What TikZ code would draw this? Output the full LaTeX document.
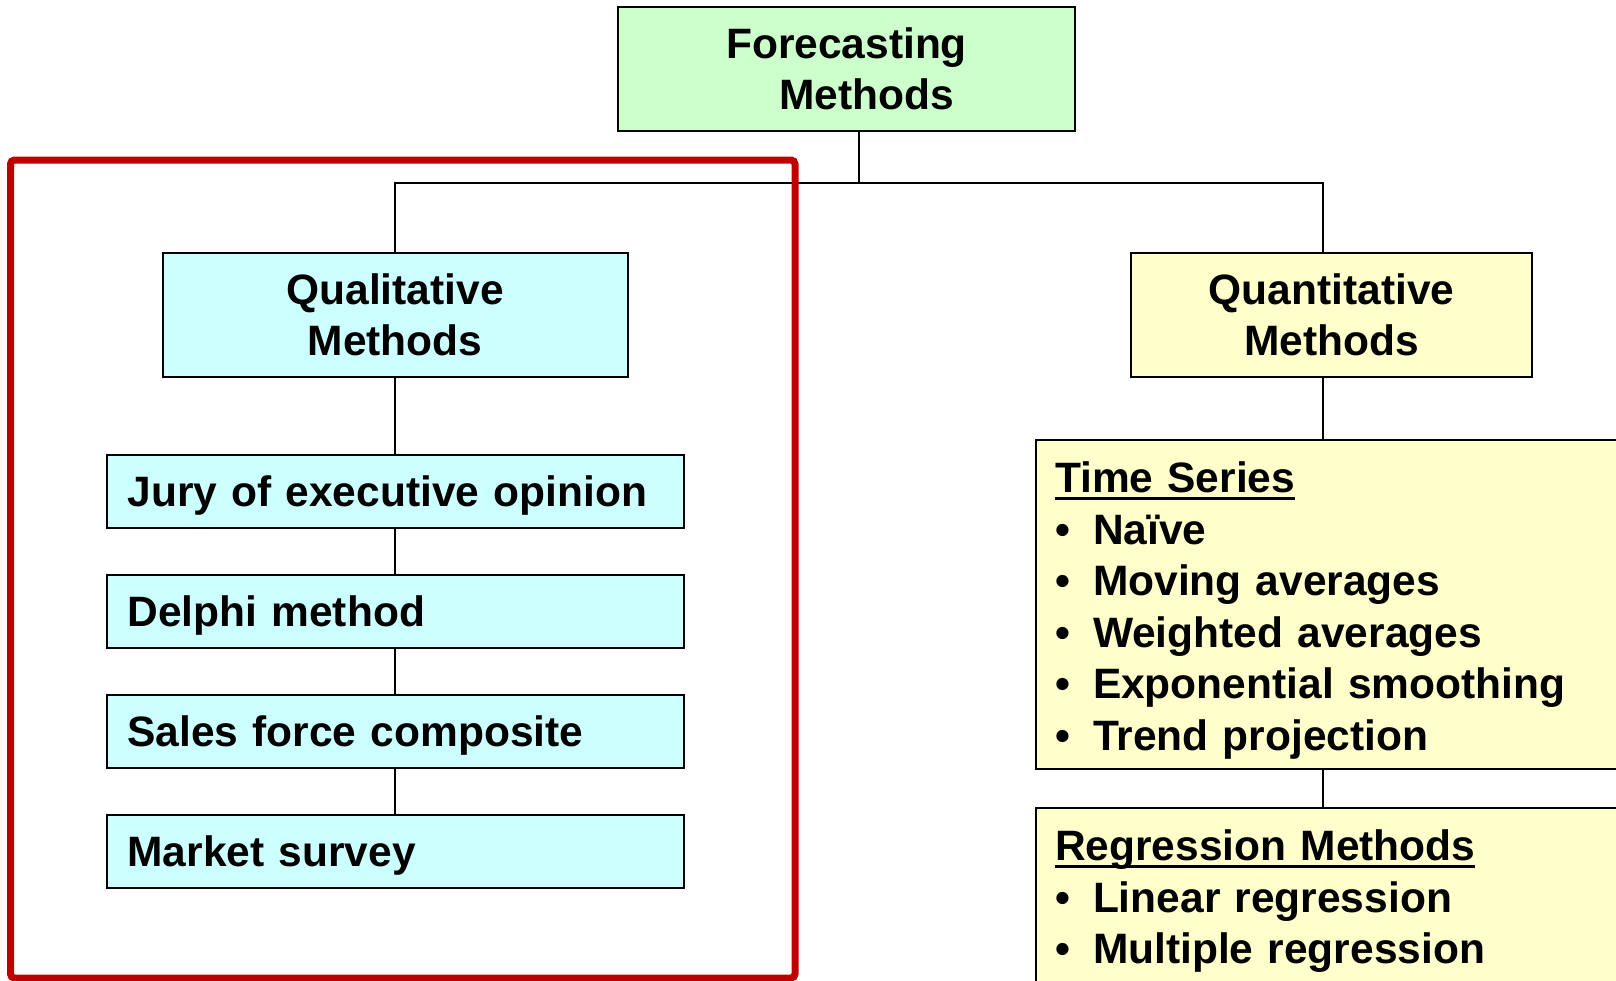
\documentclass[tikz,border=0pt]{standalone}
\usepackage{fontspec}
\setmainfont{Liberation Sans}
\usetikzlibrary{positioning}

\definecolor{fcgreen}{HTML}{CCFFCC}
\definecolor{qlcyan}{HTML}{CCFFFF}
\definecolor{qnyellow}{HTML}{FFFFCC}
\definecolor{framered}{HTML}{C00000}

\tikzstyle{headbox} = [
    rectangle,
    draw=black,
    line width=1pt,
    font=\fontsize{21.25pt}{25.75pt}\selectfont\bfseries,
    align=center,
    minimum height=62pt
]
\tikzstyle{methodbox} = [
    rectangle,
    draw=black,
    fill=qlcyan,
    line width=1pt,
    font=\fontsize{21.25pt}{25.75pt}\selectfont\bfseries,
    text width=267.5pt,
    text depth=0pt,
    align=left,
    inner xsep=10.5pt,
    minimum height=36.5pt
]
\tikzstyle{listbox} = [
    rectangle,
    draw=black,
    fill=qnyellow,
    line width=1pt,
    font=\fontsize{21.25pt}{25.75pt}\selectfont\bfseries,
    text width=291pt,
    align=left,
    inner xsep=9.5pt,
    inner ysep=11pt,
    anchor=north west
]
\tikzstyle{link} = [line width=1pt]
\tikzstyle{frame} = [draw=framered, line width=3.5pt, rounded corners=2pt]

\newcommand{\li}{\makebox[19pt][l]{\textbullet}}
\newcommand{\ulhead}[1]{\setbox0\hbox{#1}\rlap{\rule[-3.6pt]{\wd0}{1.4pt}}\box0}

\begin{document}
\begin{tikzpicture}[x=0.5pt, y=-0.5pt, node distance=22.5pt]
\useasboundingbox (0,0) rectangle (1616,980);
\clip (0,0) rectangle (1616,980);

\node (fm) [headbox, fill=fcgreen, minimum width=228.5pt] at (846.5,69)
{Forecasting\\\hspace*{20pt}Methods};

\node (qual) [headbox, fill=qlcyan, minimum width=232.5pt] at (395,315)
{Qualitative\\Methods};

\node (quan) [headbox, fill=qnyellow, minimum width=200.5pt] at (1331.5,315)
{Quantitative\\Methods};

\node (jury) [methodbox] at (395,491) {Jury of executive opinion};
\node (delphi) [methodbox, below=of jury] {Delphi method};
\node (sales) [methodbox, below=of delphi] {Sales force composite};
\node (survey) [methodbox, below=of sales] {Market survey};

\node (ts) [listbox, text depth=127pt] at (1035,439)
{\ulhead{Time Series}\\
\li Naïve\\
\li Moving averages\\
\li Weighted averages\\
\li Exponential smoothing\\
\li Trend projection};

\node (reg) [listbox, text depth=120pt] at (1035,807)
{\ulhead{Regression Methods}\\
\li Linear regression\\
\li Multiple regression};

\coordinate (split) at (859,183);
\coordinate (qtrunk) at (1323,183);

\draw [link] (split |- fm.south) -- (split);
\draw [link] (qual.north) |- (qtrunk) -- (qtrunk |- quan.north);
\draw [link] (qual) -- (jury);
\draw [link] (jury) -- (delphi);
\draw [link] (delphi) -- (sales);
\draw [link] (sales) -- (survey);
\draw [link] (qtrunk |- quan.south) -- (qtrunk |- ts.north);
\draw [link] (qtrunk |- ts.south) -- (qtrunk |- reg.north);

\draw [frame] (10.5,160) rectangle (795,978);

\end{tikzpicture}
\end{document}
